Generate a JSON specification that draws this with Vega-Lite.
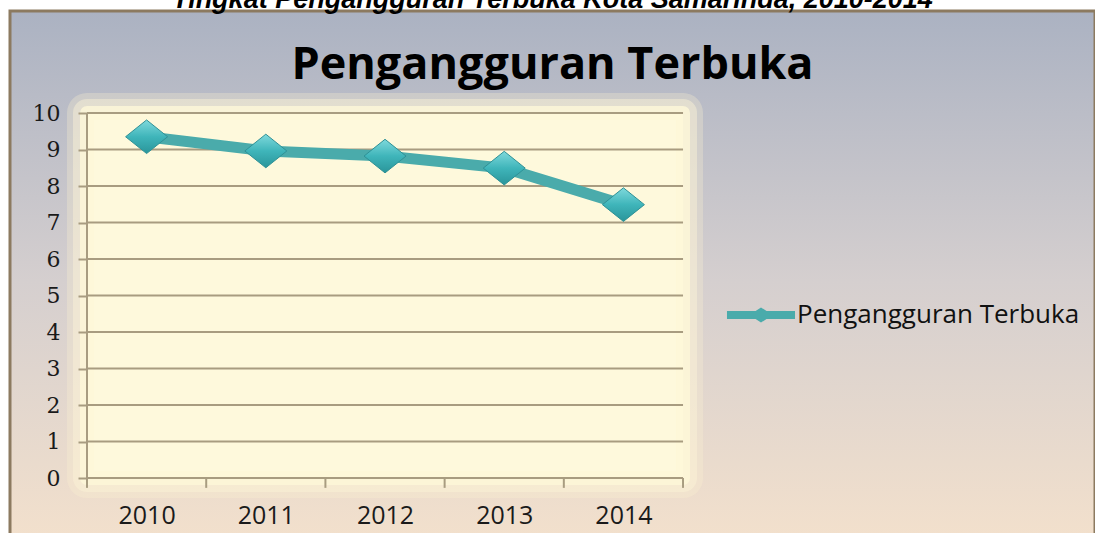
{
  "$schema": "https://vega.github.io/schema/vega-lite/v6.json",
  "width": 1085,
  "height": 541,
  "autosize": {"type": "none"},
  "padding": {"left": 10, "top": 11, "right": 0, "bottom": 0},
  "background": "white",
  "config": {
    "view": {
      "fill": {"gradient": "linear", "x1": 0, "y1": 0, "x2": 0, "y2": 1,
        "stops": [{"offset": 0, "color": "#abb2c2"}, {"offset": 0.5, "color": "#d5cfcf"}, {"offset": 1, "color": "#f4e1cc"}]},
      "stroke": "#8c7a60",
      "strokeWidth": 3
    }
  },
  "title": {
    "text": "Tingkat Pengangguran Terbuka Kota Samarinda, 2010-2014",
    "subtitle": "Pengangguran Terbuka",
    "anchor": "middle",
    "frame": "group",
    "orient": "top",
    "offset": -78,
    "font": "Liberation Sans",
    "fontSize": 27,
    "fontStyle": "italic",
    "fontWeight": "bold",
    "color": "#000000",
    "subtitleFont": "Open Sans",
    "subtitleFontSize": 45,
    "subtitleFontWeight": "bold",
    "subtitleColor": "#000000",
    "subtitlePadding": 29
  },
  "datasets": {
    "series": [
      {"tahun": 2010, "persen": 9.35, "seri": "Pengangguran Terbuka"},
      {"tahun": 2011, "persen": 8.96, "seri": "Pengangguran Terbuka"},
      {"tahun": 2012, "persen": 8.82, "seri": "Pengangguran Terbuka"},
      {"tahun": 2013, "persen": 8.49, "seri": "Pengangguran Terbuka"},
      {"tahun": 2014, "persen": 7.49, "seri": "Pengangguran Terbuka"}
    ],
    "grid": [
      {"persen": 0}, {"persen": 1}, {"persen": 2}, {"persen": 3}, {"persen": 4}, {"persen": 5},
      {"persen": 6}, {"persen": 7}, {"persen": 8}, {"persen": 9}, {"persen": 10}
    ],
    "batas": [
      {"tahun": 2009.5}, {"tahun": 2010.5}, {"tahun": 2011.5}, {"tahun": 2012.5}, {"tahun": 2013.5}, {"tahun": 2014.5}
    ],
    "satu": [{"id": 1}]
  },
  "layer": [
    {
      "data": {"name": "satu"},
      "mark": {"type": "rect", "fill": "#fef8da", "stroke": "#fdf3d2", "strokeWidth": 40, "strokeOpacity": 0.3, "strokeJoin": "round"},
      "encoding": {
        "x": {"datum": 2009.5, "type": "quantitative", "scale": {"domain": [2008.854, 2017.956], "nice": false, "zero": false},
          "axis": {"orient": "bottom", "offset": -74, "zindex": 1, "values": [2010, 2011, 2012, 2013, 2014], "format": "d",
            "domain": false, "ticks": false, "grid": false, "labelPadding": 25, "labelFont": "Open Sans",
            "labelFontSize": 25, "labelColor": "#1a1a1a", "title": null, "labelFlush": false, "labelOverlap": false}},
        "x2": {"datum": 2014.5},
        "y": {"datum": 0, "type": "quantitative", "scale": {"domain": [-2.027, 12.795], "nice": false, "zero": false},
          "axis": {"orient": "left", "offset": -77, "zindex": 1, "values": [0, 1, 2, 3, 4, 5, 6, 7, 8, 9, 10],
            "domain": false, "ticks": true, "tickSize": 9, "tickColor": "#a89c80", "tickWidth": 2, "grid": false,
            "labelPadding": 18, "labelFont": "DejaVu Serif", "labelFontSize": 22, "labelColor": "#1a1a1a",
            "title": null, "labelFlush": false, "labelOverlap": false}},
        "y2": {"datum": 10}
      }
    },
    {
      "data": {"name": "satu"},
      "mark": {"type": "rect", "fill": "#fef8da", "stroke": "#fdf5d6", "strokeWidth": 28, "strokeOpacity": 0.45, "strokeJoin": "round"},
      "encoding": {
        "x": {"datum": 2009.5, "type": "quantitative",
          "axis": {"orient": "bottom", "offset": -74, "zindex": 1, "values": [2010, 2011, 2012, 2013, 2014], "format": "d",
            "domain": false, "ticks": false, "grid": false, "labelPadding": 25, "labelFont": "Open Sans",
            "labelFontSize": 25, "labelColor": "#1a1a1a", "title": null, "labelFlush": false, "labelOverlap": false}},
        "x2": {"datum": 2014.5},
        "y": {"datum": 0, "type": "quantitative",
          "axis": {"orient": "left", "offset": -77, "zindex": 1, "values": [0, 1, 2, 3, 4, 5, 6, 7, 8, 9, 10],
            "domain": false, "ticks": true, "tickSize": 9, "tickColor": "#a89c80", "tickWidth": 2, "grid": false,
            "labelPadding": 18, "labelFont": "DejaVu Serif", "labelFontSize": 22, "labelColor": "#1a1a1a",
            "title": null, "labelFlush": false, "labelOverlap": false}},
        "y2": {"datum": 10}
      }
    },
    {
      "data": {"name": "satu"},
      "mark": {"type": "rect", "fill": "#fef9dc", "stroke": "#fef8d8", "strokeWidth": 14, "strokeOpacity": 0.8, "strokeJoin": "round"},
      "encoding": {
        "x": {"datum": 2009.5, "type": "quantitative",
          "axis": {"orient": "bottom", "offset": -74, "zindex": 1, "values": [2010, 2011, 2012, 2013, 2014], "format": "d",
            "domain": false, "ticks": false, "grid": false, "labelPadding": 25, "labelFont": "Open Sans",
            "labelFontSize": 25, "labelColor": "#1a1a1a", "title": null, "labelFlush": false, "labelOverlap": false}},
        "x2": {"datum": 2014.5},
        "y": {"datum": 0, "type": "quantitative",
          "axis": {"orient": "left", "offset": -77, "zindex": 1, "values": [0, 1, 2, 3, 4, 5, 6, 7, 8, 9, 10],
            "domain": false, "ticks": true, "tickSize": 9, "tickColor": "#a89c80", "tickWidth": 2, "grid": false,
            "labelPadding": 18, "labelFont": "DejaVu Serif", "labelFontSize": 22, "labelColor": "#1a1a1a",
            "title": null, "labelFlush": false, "labelOverlap": false}},
        "y2": {"datum": 10}
      }
    },
    {
      "data": {"name": "grid"},
      "mark": {"type": "rule", "stroke": "#a89c80", "strokeWidth": 2},
      "encoding": {
        "x": {"datum": 2009.5, "type": "quantitative",
          "axis": {"orient": "bottom", "offset": -74, "zindex": 1, "values": [2010, 2011, 2012, 2013, 2014], "format": "d",
            "domain": false, "ticks": false, "grid": false, "labelPadding": 25, "labelFont": "Open Sans",
            "labelFontSize": 25, "labelColor": "#1a1a1a", "title": null, "labelFlush": false, "labelOverlap": false}},
        "x2": {"datum": 2014.5},
        "y": {"field": "persen", "type": "quantitative",
          "axis": {"orient": "left", "offset": -77, "zindex": 1, "values": [0, 1, 2, 3, 4, 5, 6, 7, 8, 9, 10],
            "domain": false, "ticks": true, "tickSize": 9, "tickColor": "#a89c80", "tickWidth": 2, "grid": false,
            "labelPadding": 18, "labelFont": "DejaVu Serif", "labelFontSize": 22, "labelColor": "#1a1a1a",
            "title": null, "labelFlush": false, "labelOverlap": false}}
      }
    },
    {
      "data": {"name": "batas"},
      "mark": {"type": "rule", "stroke": "#a89c80", "strokeWidth": 2},
      "encoding": {
        "x": {"field": "tahun", "type": "quantitative",
          "axis": {"orient": "bottom", "offset": -74, "zindex": 1, "values": [2010, 2011, 2012, 2013, 2014], "format": "d",
            "domain": false, "ticks": false, "grid": false, "labelPadding": 25, "labelFont": "Open Sans",
            "labelFontSize": 25, "labelColor": "#1a1a1a", "title": null, "labelFlush": false, "labelOverlap": false}},
        "y": {"datum": 0, "type": "quantitative",
          "axis": {"orient": "left", "offset": -77, "zindex": 1, "values": [0, 1, 2, 3, 4, 5, 6, 7, 8, 9, 10],
            "domain": false, "ticks": true, "tickSize": 9, "tickColor": "#a89c80", "tickWidth": 2, "grid": false,
            "labelPadding": 18, "labelFont": "DejaVu Serif", "labelFontSize": 22, "labelColor": "#1a1a1a",
            "title": null, "labelFlush": false, "labelOverlap": false}},
        "y2": {"datum": -0.27}
      }
    },
    {
      "data": {"name": "satu"},
      "mark": {"type": "rule", "stroke": "#a89c80", "strokeWidth": 2},
      "encoding": {
        "x": {"datum": 2009.5, "type": "quantitative",
          "axis": {"orient": "bottom", "offset": -74, "zindex": 1, "values": [2010, 2011, 2012, 2013, 2014], "format": "d",
            "domain": false, "ticks": false, "grid": false, "labelPadding": 25, "labelFont": "Open Sans",
            "labelFontSize": 25, "labelColor": "#1a1a1a", "title": null, "labelFlush": false, "labelOverlap": false}},
        "y": {"datum": -0.05, "type": "quantitative",
          "axis": {"orient": "left", "offset": -77, "zindex": 1, "values": [0, 1, 2, 3, 4, 5, 6, 7, 8, 9, 10],
            "domain": false, "ticks": true, "tickSize": 9, "tickColor": "#a89c80", "tickWidth": 2, "grid": false,
            "labelPadding": 18, "labelFont": "DejaVu Serif", "labelFontSize": 22, "labelColor": "#1a1a1a",
            "title": null, "labelFlush": false, "labelOverlap": false}},
        "y2": {"datum": 10}
      }
    },
    {
      "data": {"name": "series"},
      "mark": {"type": "line", "strokeWidth": 11, "strokeJoin": "round", "strokeCap": "round"},
      "encoding": {
        "x": {
          "field": "tahun", "type": "quantitative",
          "axis": {"orient": "bottom", "offset": -74, "zindex": 1, "values": [2010, 2011, 2012, 2013, 2014], "format": "d",
            "domain": false, "ticks": false, "grid": false, "labelPadding": 25, "labelFont": "Open Sans",
            "labelFontSize": 25, "labelColor": "#1a1a1a", "title": null, "labelFlush": false, "labelOverlap": false}
        },
        "y": {
          "field": "persen", "type": "quantitative",
          "axis": {"orient": "left", "offset": -77, "zindex": 1, "values": [0, 1, 2, 3, 4, 5, 6, 7, 8, 9, 10],
            "domain": false, "ticks": true, "tickSize": 9, "tickColor": "#a89c80", "tickWidth": 2, "grid": false,
            "labelPadding": 18, "labelFont": "DejaVu Serif", "labelFontSize": 22, "labelColor": "#1a1a1a",
            "title": null, "labelFlush": false, "labelOverlap": false}
        },
        "color": {
          "field": "seri", "type": "nominal",
          "scale": {"domain": ["Pengangguran Terbuka"], "range": ["#4aabab"]},
          "legend": {
            "orient": "none", "legendX": 730, "legendY": 283, "title": null, "padding": 0,
            "symbolType": "M-1.62,-0.19H1.62V0.19H-1.62Z M0,-0.36L0.55,0L0,0.36L-0.55,0Z",
            "symbolSize": 1764, "symbolStrokeWidth": 0,
            "labelFont": "Open Sans", "labelFontSize": 26, "labelColor": "#111111", "labelOffset": 15, "labelLimit": 400,
            "encode": {"symbols": {"update": {"fill": {"value": "#4aabab"}, "stroke": {"value": "transparent"}}}}
          }
        }
      }
    },
    {
      "data": {"name": "series"},
      "mark": {
        "type": "point", "filled": true, "opacity": 1, "size": 1764,
        "shape": "M-1,0L0,-0.8L1,0L0,0.8Z",
        "fill": {"gradient": "linear", "x1": 0, "y1": 0, "x2": 0, "y2": 1,
          "stops": [{"offset": 0, "color": "#7fd9dc"}, {"offset": 0.5, "color": "#3fb5ba"}, {"offset": 1, "color": "#2a959a"}]},
        "stroke": "#2f9196", "strokeWidth": 1
      },
      "encoding": {
        "x": {"field": "tahun", "type": "quantitative",
          "axis": {"orient": "bottom", "offset": -74, "zindex": 1, "values": [2010, 2011, 2012, 2013, 2014], "format": "d",
            "domain": false, "ticks": false, "grid": false, "labelPadding": 25, "labelFont": "Open Sans",
            "labelFontSize": 25, "labelColor": "#1a1a1a", "title": null, "labelFlush": false, "labelOverlap": false}},
        "y": {"field": "persen", "type": "quantitative",
          "axis": {"orient": "left", "offset": -77, "zindex": 1, "values": [0, 1, 2, 3, 4, 5, 6, 7, 8, 9, 10],
            "domain": false, "ticks": true, "tickSize": 9, "tickColor": "#a89c80", "tickWidth": 2, "grid": false,
            "labelPadding": 18, "labelFont": "DejaVu Serif", "labelFontSize": 22, "labelColor": "#1a1a1a",
            "title": null, "labelFlush": false, "labelOverlap": false}}
      }
    }
  ]
}
